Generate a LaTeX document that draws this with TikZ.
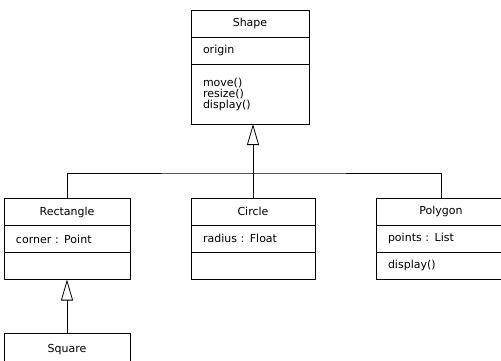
\documentclass[tikz,border=0pt]{standalone}
\usepackage{fontspec}
\setmainfont{DejaVu Sans}
\usetikzlibrary{positioning,arrows.meta}

\tikzset{
  classfont/.style={font=\fontsize{11}{11}\selectfont},
  classname/.style={draw, classfont, minimum height=27pt, inner sep=0pt, outer sep=0pt, align=center},
  classpart/.style={draw, classfont, minimum height=27pt, inner xsep=12pt, inner ysep=0pt,
    outer sep=0pt, text width=#1, align=left},
  inherit/.style={-{Triangle[open,width=12pt,length=21pt]}},
}

\begin{document}
\begin{tikzpicture}[x=1pt, y=-1pt, line width=0.8pt]
        \useasboundingbox (0,0) rectangle (501,361);

        % draw superclass
        \node[classname, minimum width=118pt] (shape) at (250,23.5) {Shape};
        \node[classpart=94pt, below=0pt of shape] (shape-attr) {origin};
        \node[classpart=94pt, minimum height=60pt, below=0pt of shape-attr] (shape-ops)
            {move()\\resize()\\display()};

        % draw subclasses
        \node[classname, minimum width=126pt] (rect) at (67,212) {Rectangle};
        \node[classpart=102pt, below=0pt of rect] (rect-attr) {corner : Point};
        \node[classpart=102pt, below=0pt of rect-attr] (rect-ops) {};

        \node[classname, minimum width=124pt] (circle) at (253,211.5) {Circle};
        \node[classpart=100pt, below=0pt of circle] (circle-attr) {radius : Float};
        \node[classpart=100pt, below=0pt of circle-attr] (circle-ops) {};

        \node[classname, minimum width=130pt] (poly) at (441,211.5) {Polygon};
        \node[classpart=106pt, below=0pt of poly] (poly-attr) {points : List};
        \node[classpart=106pt, below=0pt of poly-attr] (poly-ops) {display()};

        \node[classname, minimum width=126pt, minimum height=34pt] (square) at (67,350) {Square};

        % draw generalization lines
        \coordinate (joint) at (253,173);
        \draw[inherit] (circle.north) -- (circle.north |- shape-ops.south);
        \draw (rect.north) |- (joint) -| (poly.north);
        \draw[inherit] (square.north) -- (rect-ops.south);
\end{tikzpicture}
\end{document}
